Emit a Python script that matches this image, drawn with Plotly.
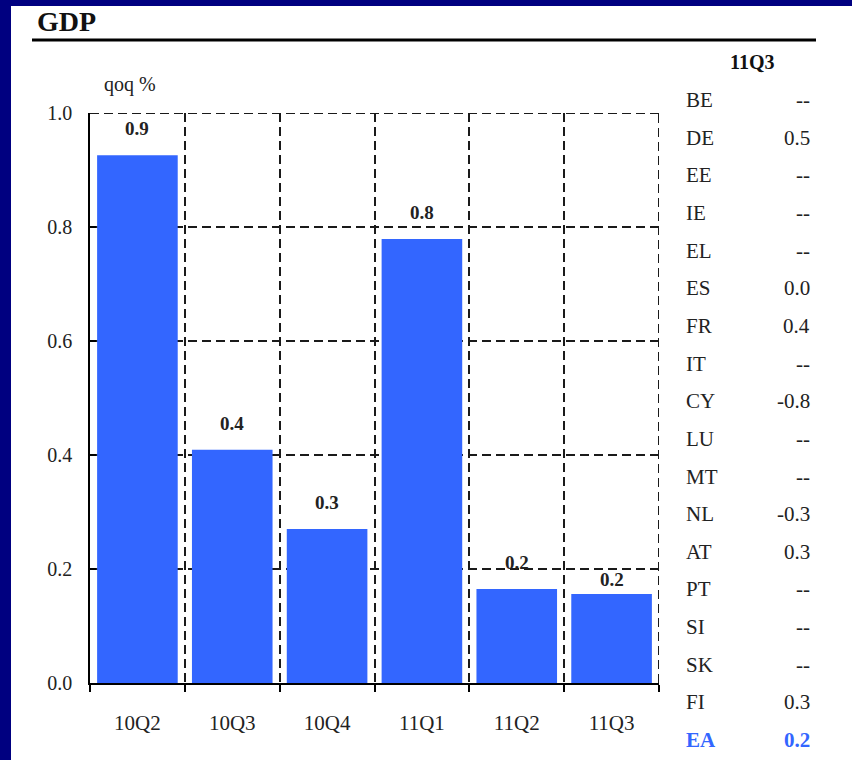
import plotly.graph_objects as go

# ---- data ----
quarters = ["10Q2", "10Q3", "10Q4", "11Q1", "11Q2", "11Q3"]
gdp_qoq = [0.926, 0.409, 0.270, 0.779, 0.165, 0.156]
y_ticks = [0.0, 0.2, 0.4, 0.6, 0.8, 1.0]
countries = ["BE", "DE", "EE", "IE", "EL", "ES", "FR", "IT", "CY", "LU",
             "MT", "NL", "AT", "PT", "SI", "SK", "FI", "EA"]
latest_q = [None, 0.5, None, None, None, 0.0, 0.4, None, -0.8, None,
            None, -0.3, 0.3, None, None, None, 0.3, 0.2]
table_header = "11Q3"
title_text = "GDP"
unit_text = "qoq %"

# ---- styling / layout constants ----
W, H = 852, 760
L, R, T, B = 90, 659, 113, 683          # plot area in pixels
NAVY = "#000080"
BLUE = "#3366FF"
FONT = "Liberation Serif, Times New Roman, serif"
GRID = "#1a1a1a"
DASH = "9px,5px"
label_shift = [14, 14, 14, 14, 14, 2]


def px(x):
    return (x - L) / (R - L)


def py(y):
    return (B - y) / (B - T)


fig = go.Figure()
fig.add_trace(go.Bar(
    x=list(range(len(quarters))), y=gdp_qoq,
    width=0.85, marker=dict(color=BLUE, line=dict(width=0)),
    hoverinfo="skip", showlegend=False,
))

annotations = []
for i, v in enumerate(gdp_qoq):
    annotations.append(dict(
        x=i, y=v, xref="x", yref="y", text="<b>%.1f</b>" % v,
        showarrow=False, yanchor="bottom", yshift=label_shift[i],
        font=dict(family=FONT, size=19, color="#222"),
    ))

# title, unit
annotations.append(dict(x=px(35), y=py(22), xref="paper", yref="paper",
                        text="<b>%s</b>" % title_text, showarrow=False,
                        xanchor="left", yanchor="middle",
                        font=dict(family=FONT, size=28, color="#111")))
annotations.append(dict(x=px(130), y=py(84), xref="paper", yref="paper",
                        text=unit_text, showarrow=False,
                        xanchor="center", yanchor="middle",
                        font=dict(family=FONT, size=20, color="#222")))

# table
annotations.append(dict(x=px(752), y=py(62), xref="paper", yref="paper",
                        text="<b>%s</b>" % table_header, showarrow=False,
                        xanchor="center", yanchor="middle",
                        font=dict(family=FONT, size=20, color="#111")))
row0, step = 100, 37.65
for k, (c, v) in enumerate(zip(countries, latest_q)):
    yy = py(row0 + k * step)
    is_ea = (c == "EA")
    col = BLUE if is_ea else "#222"
    ctext = "<b>%s</b>" % c if is_ea else c
    vtext = "--" if v is None else "%.1f" % v
    if is_ea:
        vtext = "<b>%s</b>" % vtext
    annotations.append(dict(x=px(684), y=yy, xref="paper", yref="paper",
                            text=ctext, showarrow=False, xanchor="left",
                            yanchor="middle",
                            font=dict(family=FONT, size=21, color=col)))
    annotations.append(dict(x=px(812), y=yy, xref="paper", yref="paper",
                            text=vtext, showarrow=False, xanchor="right",
                            yanchor="middle",
                            font=dict(family=FONT, size=21, color=col)))

n = len(quarters)
shapes = [
    # white panel on navy background
    dict(type="rect", xref="paper", yref="paper",
         x0=px(11), x1=px(W + 5), y0=py(H + 5), y1=py(6),
         fillcolor="white", line=dict(width=0), layer="below"),
    # title rule
    dict(type="line", xref="paper", yref="paper",
         x0=px(32), x1=px(816), y0=py(40), y1=py(40),
         line=dict(color="black", width=3)),
    # top gridline and right-hand gridline (at the axis range edges)
    dict(type="line", xref="x", yref="y",
         x0=-0.5, x1=n - 0.5, y0=y_ticks[-1], y1=y_ticks[-1],
         line=dict(color=GRID, width=2, dash=DASH), layer="below"),
    dict(type="line", xref="x", yref="y",
         x0=n - 0.5, x1=n - 0.5, y0=0, y1=y_ticks[-1],
         line=dict(color=GRID, width=2, dash=DASH), layer="below"),
]

fig.update_layout(
    width=W, height=H,
    margin=dict(l=L, r=W - R, t=T, b=H - B, pad=0),
    paper_bgcolor=NAVY, plot_bgcolor="rgba(0,0,0,0)",
    annotations=annotations, shapes=shapes,
    bargap=0.15, showlegend=False,
    font=dict(family=FONT, color="#222"),
)

fig.update_xaxes(
    range=[-0.5, n - 0.5],
    tickvals=list(range(n)), ticktext=quarters,
    ticks="", showgrid=False, zeroline=False,
    showline=True, linecolor="black", linewidth=1.5,
    tickfont=dict(family=FONT, size=21, color="#222"),
    ticklabelstandoff=20,
    minor=dict(tick0=0.5, dtick=1, ticks="outside", ticklen=7,
               tickcolor="black", tickwidth=1.5,
               showgrid=True, gridcolor=GRID, gridwidth=2,
               griddash=DASH),
)
fig.update_yaxes(
    range=[0, y_ticks[-1]], tickvals=y_ticks,
    ticktext=["%.1f" % t for t in y_ticks],
    ticks="inside", ticklen=6, tickcolor="black", tickwidth=1.5,
    showgrid=True, gridcolor=GRID, gridwidth=2, griddash=DASH,
    zeroline=False, showline=True, linecolor="black", linewidth=1.5,
    tickfont=dict(family=FONT, size=20, color="#222"),
    ticklabelstandoff=12,
)

fig.write_html("out.html")
